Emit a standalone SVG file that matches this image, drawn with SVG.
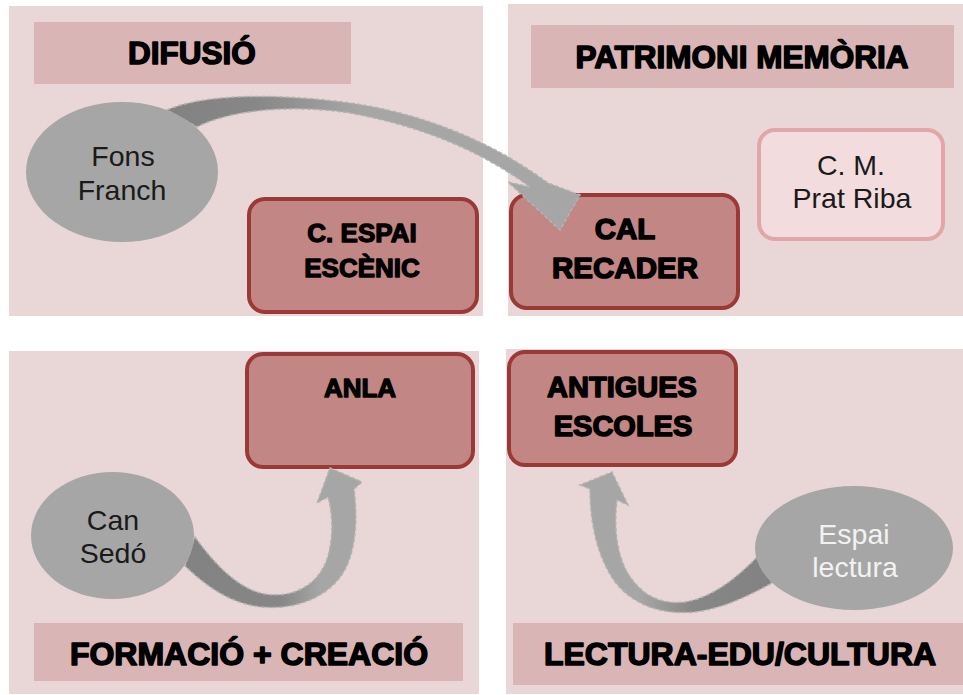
<svg xmlns="http://www.w3.org/2000/svg" width="963" height="695" viewBox="0 0 963 695">
<defs>
<style>
.panel{fill:#e9d7d8}
.bar{fill:#d9b5b5}
.box{fill:#c28684;stroke:#9b3936;stroke-width:4}
.soft{fill:#f2dcdd;stroke:#e3a6a8;stroke-width:4}
.ell{fill:#a6a6a6}
.h{font-family:"Liberation Sans",Arial,sans-serif;font-weight:bold;fill:#000;stroke:#000;stroke-width:1.5;stroke-linejoin:round;text-anchor:middle}
.t{font-family:"Liberation Sans",Arial,sans-serif;font-size:28.5px;fill:#1a1a1a;text-anchor:middle}
.arrow{stroke:#b3b3b3;stroke-width:1.5;stroke-dasharray:4 2}
</style>
<linearGradient id="g1" gradientUnits="userSpaceOnUse" x1="170" y1="0" x2="360" y2="0">
<stop offset="0" stop-color="#828282"/><stop offset="0.45" stop-color="#878787"/><stop offset="1" stop-color="#a6a6a6"/>
</linearGradient>
<linearGradient id="g2" gradientUnits="userSpaceOnUse" x1="190" y1="0" x2="320" y2="0">
<stop offset="0" stop-color="#828282"/><stop offset="0.7" stop-color="#878787"/><stop offset="1" stop-color="#a6a6a6"/>
</linearGradient>
<linearGradient id="g3" gradientUnits="userSpaceOnUse" x1="770" y1="0" x2="640" y2="0">
<stop offset="0" stop-color="#828282"/><stop offset="0.6" stop-color="#878787"/><stop offset="1" stop-color="#a6a6a6"/>
</linearGradient>
</defs>
<rect width="963" height="695" fill="#ffffff"/>
<g id="panels">
<rect class="panel" x="9" y="6" width="474" height="310"/>
<rect class="panel" x="508" y="4" width="455" height="312"/>
<rect class="panel" x="9" y="351" width="470" height="343"/>
<rect class="panel" x="506" y="349" width="457" height="345"/>
</g>
<g id="title-difusio">
<rect class="bar" x="34" y="22" width="317" height="62"/>
<text class="h" x="192" y="64" font-size="31.5">DIFUSIÓ</text>
</g>
<g id="title-patrimoni">
<rect class="bar" x="531" y="25" width="423" height="63"/>
<text class="h" x="742" y="68" font-size="31.5">PATRIMONI MEMÒRIA</text>
</g>
<g id="title-formacio">
<rect class="bar" x="34" y="623" width="429" height="58"/>
<text class="h" x="249" y="665" font-size="32">FORMACIÓ + CREACIÓ</text>
</g>
<g id="title-lectura">
<rect class="bar" x="513" y="623" width="450" height="62"/>
<text class="h" x="740" y="665" font-size="32">LECTURA-EDU/CULTURA</text>
</g>
<g id="node-espai-escenic">
<rect class="box" x="249" y="199" width="228" height="113" rx="16"/>
<text class="h" x="362" y="242" font-size="26" style="stroke-width:1.3">C. ESPAI</text>
<text class="h" x="362" y="277" font-size="26" style="stroke-width:1.3">ESCÈNIC</text>
</g>
<g id="node-cal-recader">
<rect class="box" x="511" y="195" width="227" height="113" rx="16"/>
<text class="h" x="625" y="239" font-size="29.5">CAL</text>
<text class="h" x="625" y="278" font-size="29.5">RECADER</text>
</g>
<g id="node-prat-riba">
<rect class="soft" x="759" y="130" width="184" height="109" rx="16"/>
<text class="t" x="851" y="175">C. M.</text>
<text class="t" x="852" y="208">Prat Riba</text>
</g>
<g id="node-anla">
<rect class="box" x="247" y="354" width="226" height="113" rx="16"/>
<text class="h" x="360" y="397" font-size="26" style="stroke-width:1.3">ANLA</text>
</g>
<g id="node-antigues-escoles">
<rect class="box" x="509" y="352" width="227" height="113" rx="16"/>
<text class="h" x="622" y="397" font-size="29">ANTIGUES</text>
<text class="h" x="623" y="436" font-size="29">ESCOLES</text>
</g>
<g id="connectors">
<path class="arrow" fill="url(#g1)" d="M167,110 C200,95 270,92 350,103 C420,113 490,140 548,183 L580,195 L560,230 L508,182 L530,187 C480,150 420,126 350,113 C290,104 230,110 197,127 Z"/>
<path class="arrow" fill="url(#g2)" d="M195,537 C215,565 240,590 265,594 C290,598 315,588 326,562 C334,540 333,515 328,497 L317,503 L330,468 L362,482 L354,489 C358,520 356,555 341,576 C325,598 295,610 262,607 C230,604 205,585 185,566 Z"/>
<path class="arrow" fill="url(#g3)" d="M757,557 C735,580 710,598 685,602 C660,605 640,595 626,570 C616,550 614,525 617,500 L628,505 L612,472 L580,485 L590,489 C590,520 596,555 615,582 C635,607 665,615 695,612 C725,608 750,595 772,583 Z"/>
</g>
<g id="node-fons-franch">
<ellipse class="ell" cx="122" cy="172" rx="96" ry="70"/>
<text class="t" x="123" y="166">Fons</text>
<text class="t" x="122" y="200">Franch</text>
</g>
<g id="node-can-sedo">
<ellipse class="ell" cx="112.5" cy="535.5" rx="81.5" ry="63.5"/>
<text class="t" x="113" y="530">Can</text>
<text class="t" x="113" y="563">Sedó</text>
</g>
<g id="node-espai-lectura">
<ellipse class="ell" cx="854" cy="548" rx="99" ry="62"/>
<text class="t" x="854" y="544" style="fill:#f2f2f2">Espai</text>
<text class="t" x="855" y="577" style="fill:#f2f2f2">lectura</text>
</g>
</svg>
